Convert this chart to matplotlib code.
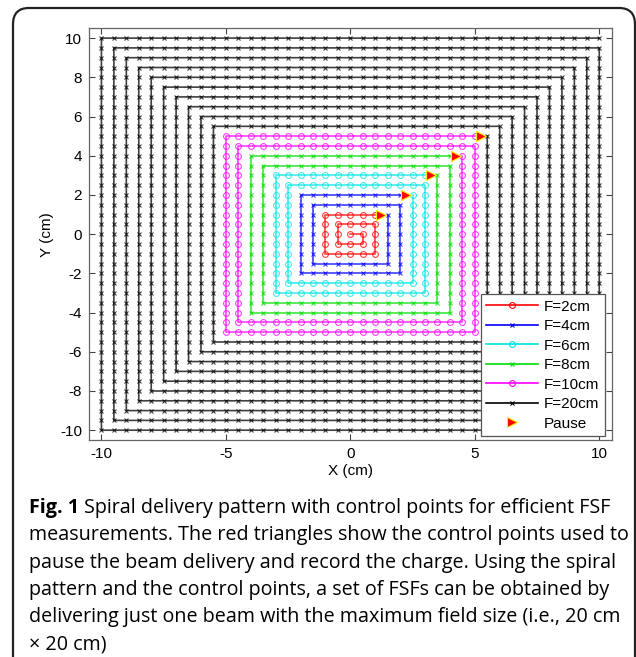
import matplotlib
matplotlib.use("Agg")
import matplotlib.pyplot as plt
from matplotlib.patches import FancyBboxPatch
import numpy as np

# ---- data ----
step = 0.5                      # spacing between control points / spiral rings (cm)
field_sizes = [2, 4, 6, 8, 10, 20]
labels = ["F=2cm", "F=4cm", "F=6cm", "F=8cm", "F=10cm", "F=20cm"]
colors = ["#ff0000", "#0000ff", "#00e5e5", "#00dd00", "#ff00ff", "#000000"]
markers = ["o", "x", "o", "x", "o", "x"]
pause_x = [1.25, 2.25, 3.25, 4.25, 5.25]
pause_y = [1.0, 2.0, 3.0, 4.0, 5.0]
xticks = [-10, -5, 0, 5, 10]
yticks = [-10, -8, -6, -4, -2, 0, 2, 4, 6, 8, 10]

caption_bold = "Fig. 1"
caption_lines = [
    "Spiral delivery pattern with control points for efficient FSF",
    "measurements. The red triangles show the control points used to",
    "pause the beam delivery and record the charge. Using the spiral",
    "pattern and the control points, a set of FSFs can be obtained by",
    "delivering just one beam with the maximum field size (i.e., 20 cm",
    "\u00d7 20 cm)",
]

# ---- spiral path (square spiral from the centre outward) ----
dirs = [(1, 0), (0, -1), (-1, 0), (0, 1)]
pts = [(0.0, 0.0)]
x, y = 0.0, 0.0
nseg = 1
d = 0
limit = max(field_sizes) / 2
done = False
while not done:
    dx, dy = dirs[d % 4]
    for _ in range(nseg):
        x += dx * step
        y += dy * step
        pts.append((x, y))
        if abs(x - limit) < 1e-9 and abs(y - limit) < 1e-9:
            done = True
            break
    if d % 2 == 1:
        nseg += 1
    d += 1
pts = np.array(pts)

fig = plt.figure(figsize=(6.36, 6.57), dpi=100)

# frame around figure + caption
frame = FancyBboxPatch((13 / 636, -0.05), (635 - 13) / 636, 1.05 - 8 / 657,
                       boxstyle="round,pad=0,rounding_size=0.025",
                       transform=fig.transFigure, fill=False,
                       edgecolor="#222222", linewidth=1.6, clip_on=False)
fig.add_artist(frame)

ax = fig.add_axes([89 / 636, 1 - 440 / 657, (611.7 - 89) / 636, (440 - 28.3) / 657])

start = 0
for F, lab, c, m in zip(field_sizes, labels, colors, markers):
    k = F / 2
    idx = np.where((np.abs(pts[:, 0] - k) < 1e-9) & (np.abs(pts[:, 1] - k) < 1e-9))[0][0]
    seg = pts[start:idx + 1]
    if m == "o":
        ax.plot(seg[:, 0], seg[:, 1], color=c, marker="o", ms=4.2, mfc="none",
                mew=0.8, lw=1.2, alpha=0.75, label=lab)
    else:
        ax.plot(seg[:, 0], seg[:, 1], color=c, marker="x", ms=3.0,
                mew=0.8, lw=1.2, alpha=0.75, label=lab)
    start = idx + 1

ax.plot(pause_x, pause_y, linestyle="none", marker=">", ms=7, mfc="#ff0000",
        mec="#ffee00", mew=0.8, label="Pause", zorder=5)

ax.set_xlim(-10.5, 10.5)
ax.set_ylim(-10.5, 10.5)
ax.set_xticks(xticks)
ax.set_yticks(yticks)
ax.set_xticklabels([str(t) for t in xticks])
ax.set_yticklabels([str(t) for t in yticks])
ax.tick_params(direction="in", top=True, right=True, length=4, width=0.8,
               color="#444444", labelsize=11, pad=5)
for lbl in ax.get_xticklabels() + ax.get_yticklabels():
    lbl.set_fontfamily("Liberation Sans")
for s in ax.spines.values():
    s.set_color("#666666")
    s.set_linewidth(0.9)
ax.set_xlabel("X (cm)", fontsize=11, family="Liberation Sans", labelpad=2)
ax.set_ylabel("Y (cm)", fontsize=11, family="Liberation Sans", labelpad=4)

leg = ax.legend(loc="lower right", bbox_to_anchor=(0.987, 0.01),
                prop={"family": "Liberation Sans", "size": 11},
                handlelength=3.4, handletextpad=0.4, labelspacing=0.36,
                borderpad=0.35, borderaxespad=0, fancybox=False, framealpha=1,
                edgecolor="#555555")
leg.get_frame().set_linewidth(0.9)
for h in leg.legend_handles:
    h.set_alpha(1)

# caption
cap_font = "Open Sans"
cap_size = 14.2
x0 = 29 / 636
base0 = 513
spacing = 27.3
fig.canvas.draw()
r = fig.canvas.get_renderer()
tb = fig.text(x0, 1 - base0 / 657, caption_bold, fontsize=cap_size, family=cap_font,
              weight="bold", va="baseline", ha="left")
bb = tb.get_window_extent(renderer=r)
fig.text(bb.x1 / 636 + 5 / 636, 1 - base0 / 657, caption_lines[0], fontsize=cap_size,
         family=cap_font, va="baseline", ha="left")
for i, line in enumerate(caption_lines[1:], start=1):
    fig.text(x0, 1 - (base0 + i * spacing) / 657, line, fontsize=cap_size,
             family=cap_font, va="baseline", ha="left")

fig.savefig("out.png", dpi=100)
